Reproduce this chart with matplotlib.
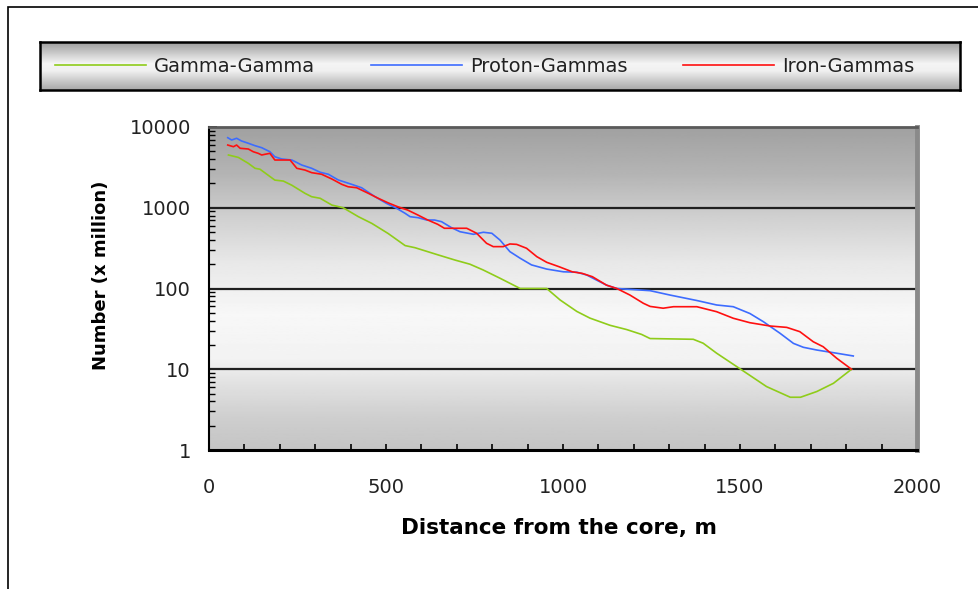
#!/usr/bin/env python3
"""
Number of particles vs distance from the shower core (log scale).
"""

import numpy as np
import matplotlib.pyplot as plt
from matplotlib.patches import Rectangle
from matplotlib.ticker import MultipleLocator, LogLocator, NullFormatter

# ============================================================================
# DATA
# ============================================================================
gamma_x = [55, 83, 111, 130, 144, 186, 210, 234, 271, 290, 314, 347, 379, 422,
           460, 506, 554, 582, 648, 695, 737, 774, 822, 879, 954, 992, 1039,
           1076, 1133, 1180, 1222, 1246, 1368, 1396, 1434, 1505, 1575, 1642,
           1671, 1717, 1764, 1815]
gamma_y = [4500, 4200, 3550, 3080, 3000, 2200, 2140, 1900, 1510, 1370, 1310,
           1080, 1000, 775, 640, 480, 340, 320, 260, 225, 200, 170, 134, 100,
           100, 72, 52, 43, 35, 31, 27, 24, 23.5, 21, 15.8, 9.8, 6.1, 4.5, 4.5,
           5.3, 6.7, 10]

proton_x = [53, 64, 78, 92, 111, 130, 149, 172, 186, 205, 234, 262, 290, 314,
            337, 365, 403, 431, 469, 501, 530, 554, 568, 591, 615, 637, 657,
            684, 709, 747, 775, 799, 822, 850, 879, 911, 954, 1001, 1039, 1067,
            1095, 1123, 1152, 1246, 1302, 1378, 1434, 1481, 1528, 1566, 1613,
            1651, 1679, 1717, 1773, 1820]
proton_y = [7370, 6900, 7250, 6710, 6290, 5870, 5540, 4940, 4280, 4020, 3900,
            3380, 3080, 2750, 2600, 2210, 1950, 1770, 1370, 1135, 984, 853, 775,
            753, 705, 705, 672, 570, 505, 469, 497, 483, 398, 286, 237, 196,
            174, 161, 159, 147, 127, 110, 100, 94, 83, 71, 62.5, 59.5, 49, 38.8,
            27.9, 20.9, 18.7, 17.3, 15.8, 14.6]

iron_x = [53, 69, 78, 88, 111, 125, 139, 149, 158, 172, 186, 229, 248, 271, 290,
          318, 347, 375, 393, 417, 450, 478, 506, 533, 561, 590, 618, 646, 665,
          695, 728, 756, 784, 803, 831, 850, 869, 897, 926, 954, 989, 1026,
          1054, 1083, 1123, 1152, 1189, 1227, 1246, 1283, 1312, 1378, 1434,
          1481, 1528, 1585, 1632, 1669, 1707, 1735, 1773, 1815]
iron_y = [5980, 5700, 5980, 5450, 5340, 4940, 4720, 4500, 4590, 4720, 3900, 3900,
          3080, 2930, 2720, 2600, 2270, 1950, 1820, 1770, 1510, 1310, 1150, 1030,
          937, 813, 705, 624, 557, 557, 557, 483, 363, 330, 330, 356, 352, 315,
          248, 211, 186, 161, 154, 140, 110, 100, 83, 65.6, 60, 57, 59.5, 59.5,
          51.6, 42.8, 37.7, 34.3, 33, 29.2, 21.9, 19, 13.7, 10]

series_labels = ["Gamma-Gamma", "Proton-Gammas", "Iron-Gammas"]
series_colors = ["#8fcc1a", "#3d6cff", "#ff1010"]

x_ticks = [0, 500, 1000, 1500, 2000]
y_ticks = [1, 10, 100, 1000, 10000]

# ============================================================================
# FIGURE
# ============================================================================
W, H = 979, 589
fig = plt.figure(figsize=(W / 100, H / 100), dpi=100)
fig.patch.set_facecolor("white")

# outer frame (only top/left visible in the crop)
fig.add_artist(Rectangle((8 / W, -0.05), 1.2, 1 - 7 / H + 0.05, transform=fig.transFigure,
                         fill=False, edgecolor="black", linewidth=1.2))

ax = fig.add_axes([209 / W, 1 - 450 / H, (917 - 209) / W, (450 - 127) / H])

# vertical grey gradient behind the plot
stops = [0.0, 0.15, 0.27, 0.42, 0.58, 0.72, 0.80, 0.90, 1.0]
greys = [0.63, 0.71, 0.81, 0.91, 0.97, 0.95, 0.88, 0.81, 0.77]
grad = np.interp(np.linspace(0, 1, 300), stops, greys).reshape(-1, 1)
ax.imshow(grad, cmap="gray", vmin=0, vmax=1, aspect="auto",
          extent=[0, 1, 0, 1], transform=ax.transAxes, zorder=0)

for xs, ys, lab, col in zip([gamma_x, proton_x, iron_x], [gamma_y, proton_y, iron_y],
                            series_labels, series_colors):
    ax.plot(xs, ys, color=col, linewidth=1.2, label=lab, zorder=3)

ax.set_yscale("log")
ax.set_xlim(0, 2000)
ax.set_ylim(1, 10000)

for v in y_ticks[1:-1]:
    ax.axhline(v, color="#202020", linewidth=1.6, zorder=2)

ax.set_xticks(x_ticks)
ax.xaxis.set_minor_locator(MultipleLocator(100))
ax.set_yticks(y_ticks)
ax.set_yticklabels([str(v) for v in y_ticks])
ax.yaxis.set_minor_locator(LogLocator(base=10, subs=np.arange(2, 10)))
ax.yaxis.set_minor_formatter(NullFormatter())

ax.tick_params(axis="both", which="both", direction="in", colors="black",
               labelsize=14, labelcolor="#222222")
ax.tick_params(axis="y", which="major", length=6, width=1.2, pad=13)
ax.tick_params(axis="y", which="minor", length=4, width=1)
ax.tick_params(axis="x", which="both", length=4, width=1.2, pad=20)

ax.spines["left"].set_linewidth(1.5)
ax.spines["bottom"].set_linewidth(2.2)
ax.spines["top"].set_color("#5a5a5a")
ax.spines["top"].set_linewidth(2)
ax.spines["right"].set_color("#8a8a8a")
ax.spines["right"].set_linewidth(3.5)

ax.set_xlabel("Distance from the core, m", fontsize=15.5, fontweight="bold")
ax.xaxis.set_label_coords(0.494, -0.212)
ax.set_ylabel("Number (x million)", fontsize=13, fontweight="bold")
ax.yaxis.set_label_coords(-0.140, 0.54)

# ============================================================================
# LEGEND BOX (own axes so it can carry the gradient)
# ============================================================================
lax = fig.add_axes([40 / W, 1 - 90 / H, (960 - 40) / W, (90 - 42) / H])
lgrad = np.interp(np.linspace(0, 1, 100), [0.0, 0.45, 0.6, 1.0],
                  [0.62, 0.96, 0.94, 0.66]).reshape(-1, 1)
lax.imshow(lgrad, cmap="gray", vmin=0, vmax=1, aspect="auto", extent=[0, 1, 0, 1])
lax.set_xticks([])
lax.set_yticks([])
for sp in lax.spines.values():
    sp.set_linewidth(1.8)

handles, labels = ax.get_legend_handles_labels()
leg = lax.legend(handles, labels, loc="center left", bbox_to_anchor=(15 / 920, 0.5),
                 ncol=3, frameon=False, fontsize=14, handlelength=4.7,
                 handletextpad=0.4, columnspacing=2.85, borderaxespad=0, borderpad=0)
for t in leg.get_texts():
    t.set_color("#222222")

fig.savefig("out.png", dpi=100)
